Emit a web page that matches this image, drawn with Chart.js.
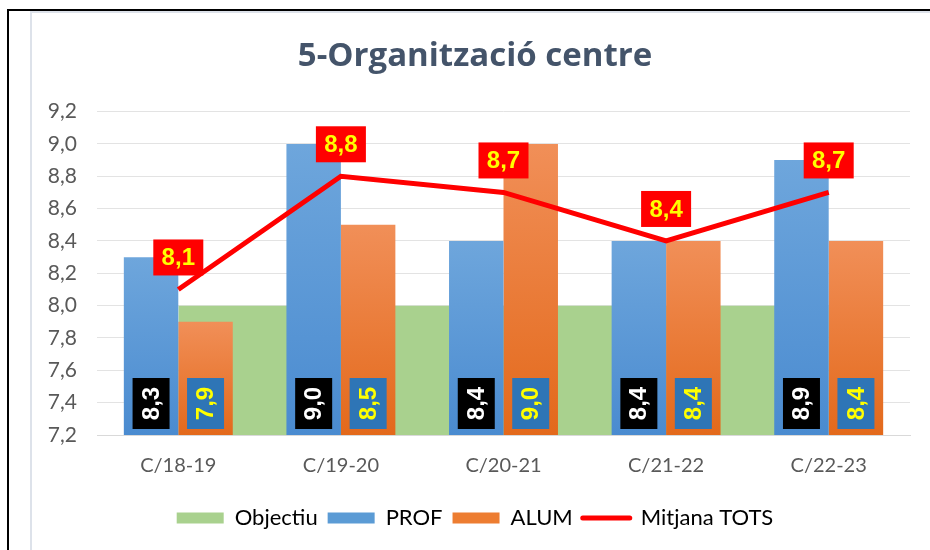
<!DOCTYPE html>
<html>
<head>
<meta charset="utf-8">
<script src="https://cdn.jsdelivr.net/npm/chart.js@4/dist/chart.umd.min.js"></script>
<style>
  html, body { margin: 0; padding: 0; background: #fff; }
  #wrap { width: 930px; height: 550px; }
</style>
</head>
<body>
<div id="wrap"><canvas id="myChart" width="930" height="550"></canvas></div>
<script>
// chart values

const courses = ["C/18-19", "C/19-20", "C/20-21", "C/21-22", "C/22-23"];
const objectiu = [8.0, 8.0, 8.0, 8.0, 8.0];
const prof = [8.3, 9.0, 8.4, 8.4, 8.9];
const alum = [7.9, 8.5, 9.0, 8.4, 8.4];
const mitjana = [8.1, 8.8, 8.7, 8.4, 8.7];

const yMin = 7.2;
const yMax = 9.2;
const yStep = 0.2;

const textFont = "Lato, sans-serif";
const labelFont = "bold 24px 'Liberation Sans', Arial, sans-serif";

// decimal comma, one decimal
function fmt(v) {
  return Number(v).toFixed(1).replace(".", ",");
}

// gradient from the top of each bar down to the axis
function barGradient(top, bottom) {
  return (c) => {
    const chart = c.chart;
    const area = chart.chartArea;
    if (!area || c.type !== "data" || !chart.scales.y) return bottom;
    const y = chart.scales.y.getPixelForValue(c.parsed.y);
    const g = chart.ctx.createLinearGradient(0, y, 0, area.bottom);
    g.addColorStop(0, top);
    g.addColorStop(1, bottom);
    return g;
  };
}

// frame lines round the picture
const frame = {
  id: "frame",
  beforeDraw(chart) {
    const ctx = chart.ctx;
    ctx.save();
    ctx.fillStyle = "#ffffff";
    ctx.fillRect(0, 0, chart.width, chart.height);
    ctx.fillStyle = "#dde2ea";
    ctx.fillRect(30, 10, 2, chart.height);
    ctx.fillRect(30, 11, chart.width, 2);
    ctx.fillStyle = "#000000";
    ctx.fillRect(7, 9, chart.width, 2);
    ctx.fillRect(7, 9, 2, chart.height);
    ctx.restore();
  },
};

// data labels: boxes at the foot of the bars, red boxes over the line
const valueLabels = {
  id: "valueLabels",
  afterDatasetsDraw(chart) {
    const { ctx, chartArea } = chart;
    ctx.save();
    ctx.font = labelFont;
    ctx.textAlign = "center";
    ctx.textBaseline = "middle";

    const barSets = [
      [1, prof, "#000000", "#ffffff"],
      [2, alum, "#2e75b6", "#ffff00"],
    ];
    barSets.forEach(([di, values, bg, fg]) => {
      chart.getDatasetMeta(di).data.forEach((bar, i) => {
        const cx = bar.x;
        const cy = chartArea.bottom - 6 - 25.5;
        ctx.fillStyle = bg;
        ctx.fillRect(cx - 18.5, cy - 25.5, 37, 51);
        ctx.save();
        ctx.translate(cx, cy);
        ctx.rotate(-Math.PI / 2);
        ctx.fillStyle = fg;
        ctx.fillText(fmt(values[i]), 0, 1);
        ctx.restore();
      });
    });

    chart.getDatasetMeta(3).data.forEach((pt, i) => {
      const bottom = pt.y - 14;
      ctx.fillStyle = "#ff0000";
      ctx.fillRect(pt.x - 25, bottom - 36, 50, 36);
      ctx.fillStyle = "#ffff00";
      ctx.fillText(fmt(mitjana[i]), pt.x, bottom - 17);
    });
    ctx.restore();
  },
};

const legendItems = [
  { text: "Objectiu", fillStyle: "#a9d18e", strokeStyle: "#a9d18e", lineWidth: 0, pointStyle: "rect", datasetIndex: 0 },
  { text: "PROF", fillStyle: "#5b9bd5", strokeStyle: "#5b9bd5", lineWidth: 0, pointStyle: "rect", datasetIndex: 1 },
  { text: "ALUM", fillStyle: "#ed7d31", strokeStyle: "#ed7d31", lineWidth: 0, pointStyle: "rect", datasetIndex: 2 },
  { text: "Mitjana TOTS", fillStyle: "#ff0000", strokeStyle: "#ff0000", lineWidth: 5, lineCap: "round", pointStyle: "line", datasetIndex: 3 },
];

const ctx = document.getElementById("myChart").getContext("2d");
const myChart = new Chart(ctx, {
  type: "bar",
  data: {
    labels: courses,
    datasets: [
      {
        type: "line",
        label: "Objectiu",
        data: objectiu,
        backgroundColor: "#a9d18e",
        borderWidth: 0,
        pointRadius: 0,
        fill: "start",
        order: 3,
      },
      {
        label: "PROF",
        data: prof,
        backgroundColor: barGradient("#6ea6dc", "#4a8bd0"),
        order: 2,
      },
      {
        label: "ALUM",
        data: alum,
        backgroundColor: barGradient("#f18f58", "#e3691b"),
        order: 2,
      },
      {
        type: "line",
        label: "Mitjana TOTS",
        data: mitjana,
        borderColor: "#ff0000",
        backgroundColor: "#ff0000",
        borderWidth: 5,
        pointRadius: 0,
        tension: 0,
        fill: false,
        order: 1,
      },
    ],
  },
  options: {
    responsive: false,
    animation: false,
    categoryPercentage: 0.67,
    barPercentage: 1,
    layout: { padding: { left: 40, right: 20, top: 0, bottom: 11 } },
    plugins: {
      title: {
        display: true,
        text: "5-Organització centre",
        color: "#44546a",
        font: { family: "'Open Sans', sans-serif", size: 33, weight: "bold" },
        padding: { top: 37, bottom: 35 },
      },
      legend: {
        position: "bottom",
        labels: {
          color: "#595959",
          font: { family: textFont, size: 22 },
          usePointStyle: true,
          pointStyleWidth: 47,
          boxHeight: 11,
          padding: 10,
          generateLabels: () => legendItems,
        },
      },
      tooltip: { enabled: false },
    },
    scales: {
      x: {
        grid: { display: false, drawTicks: false },
        border: { color: "#d9d9d9" },
        ticks: { color: "#595959", font: { family: textFont, size: 20 }, padding: 19 },
      },
      y: {
        min: yMin,
        max: yMax,
        grid: { color: "#e3e3e3", drawTicks: false },
        border: { display: false },
        ticks: {
          stepSize: yStep,
          color: "#595959",
          font: { family: textFont, size: 21 },
          padding: 20,
          callback: (v) => fmt(v),
        },
        afterFit: (scale) => {
          scale.width = 57;
        },
      },
    },
  },
  plugins: [frame, valueLabels],
});
</script>
</body>
</html>
